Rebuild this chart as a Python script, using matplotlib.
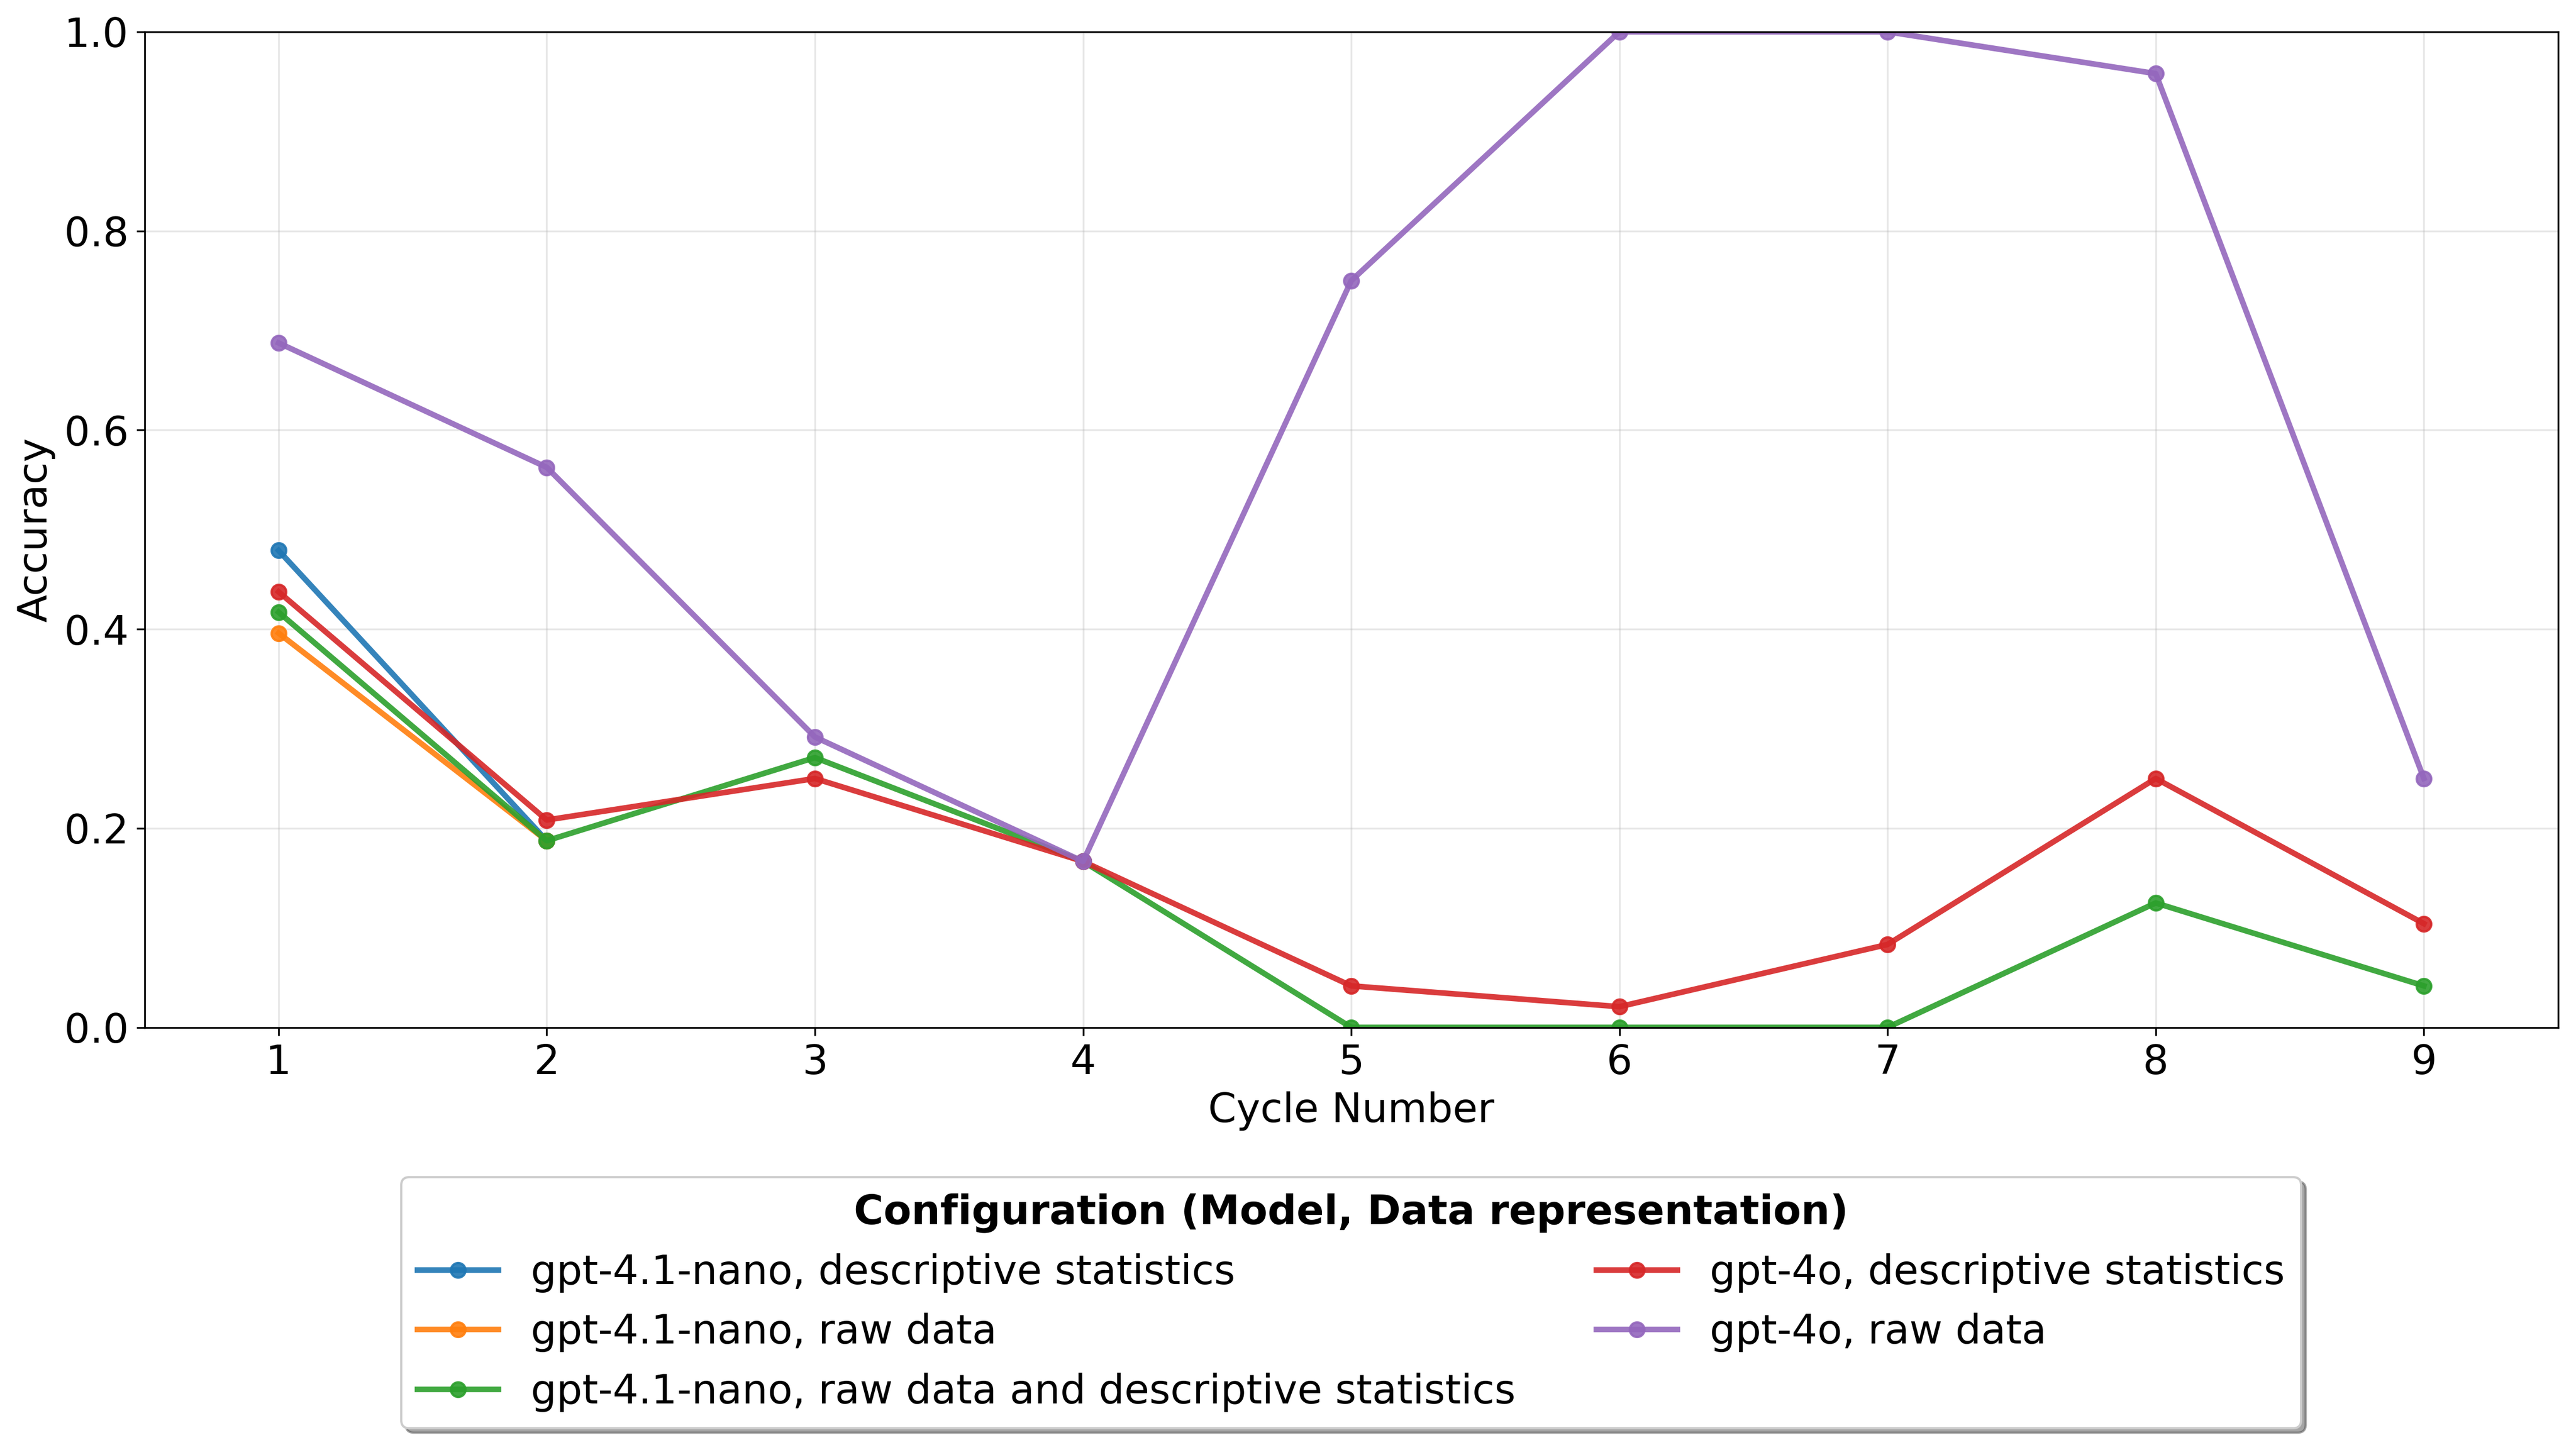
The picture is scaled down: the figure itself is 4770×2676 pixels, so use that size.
import matplotlib
matplotlib.use("Agg")
import matplotlib.pyplot as plt

# Accuracy per cycle
cycles = [1, 2, 3, 4, 5, 6, 7, 8, 9]

nano_desc_cycles = [1, 2]
nano_desc = [0.479, 0.1875]

nano_raw_cycles = [1, 2]
nano_raw = [0.396, 0.1875]

nano_both = [0.417, 0.1875, 0.271, 0.1667, 0.0, 0.0, 0.0, 0.125, 0.0417]
gpt4o_desc = [0.4375, 0.2083, 0.25, 0.1667, 0.0417, 0.0208, 0.0833, 0.25, 0.1042]
gpt4o_raw = [0.6875, 0.5625, 0.2917, 0.1667, 0.75, 1.0, 1.0, 0.958, 0.25]

labels = [
    "gpt-4.1-nano, descriptive statistics",
    "gpt-4.1-nano, raw data",
    "gpt-4.1-nano, raw data and descriptive statistics",
    "gpt-4o, descriptive statistics",
    "gpt-4o, raw data",
]
colors = ["#1f77b4", "#ff7f0e", "#2ca02c", "#d62728", "#9467bd"]

fig, ax = plt.subplots(figsize=(15.9, 8.92), dpi=300)
fig.subplots_adjust(left=0.0561, right=0.993, top=0.978, bottom=0.289)

series = [
    (nano_desc_cycles, nano_desc),
    (nano_raw_cycles, nano_raw),
    (cycles, nano_both),
    (cycles, gpt4o_desc),
    (cycles, gpt4o_raw),
]
for (x, y), lab, col in zip(series, labels, colors):
    ax.plot(x, y, marker="o", linewidth=2.5, markersize=6.5, color=col,
            alpha=0.9, label=lab)

ax.set_xlim(0.5, 9.5)
ax.set_ylim(0, 1.0)
ax.set_xticks(cycles)
ax.tick_params(labelsize=18)
ax.set_xlabel("Cycle Number", fontsize=18)
ax.set_ylabel("Accuracy", fontsize=18)
ax.grid(True, alpha=0.3)

leg = ax.legend(title="Configuration (Model, Data representation)",
                loc="upper center", bbox_to_anchor=(0.5, -0.13), ncol=2,
                fontsize=18, title_fontsize=18, shadow=True, fancybox=True)
leg.get_title().set_fontweight("bold")

fig.savefig("out.png", dpi=300)
